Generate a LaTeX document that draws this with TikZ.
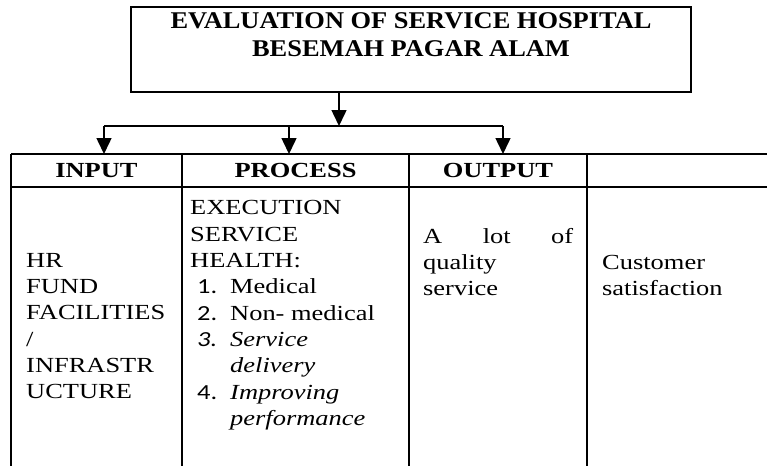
\documentclass[tikz,border=0pt]{standalone}
\usepackage{fontspec}
\setmainfont{Liberation Serif}[FakeStretch=1.23]
\newfontfamily\titlefont{Liberation Serif}[FakeStretch=1.1]
\newfontfamily\numfont{Carlito}[FakeStretch=1.23]
\usetikzlibrary{positioning,calc,arrows.meta}

\newcommand{\bodyfont}{\fontsize{21.5}{26.3}\selectfont}
\newcommand{\listnum}[1]{\hspace*{7pt}\makebox[33pt][l]{\numfont #1}}
\newcommand{\listgap}{\hspace*{40pt}}

\tikzset{
  rule/.style={line width=2pt},
  link/.style={line width=1.5pt, -{Triangle[length=16pt,width=15pt]}},
  cell/.style={minimum height=33pt, inner sep=0pt, outer sep=0pt, font=\bodyfont\bfseries},
  body/.style={anchor=north west, align=left, inner sep=0pt, font=\bodyfont},
}

\begin{document}
\begin{tikzpicture}[x=1pt,y=-1pt]
  \useasboundingbox (0,0) rectangle (767,466);

  % title box
  \node[draw, rule, minimum width=560pt, minimum height=85pt, inner sep=0pt] (title) at (411,49.5) {};
  \node[below=6.5pt of title.north, align=center, inner sep=0pt,
        font=\titlefont\fontsize{24}{28.3}\selectfont\bfseries] (titletext)
        {EVALUATION OF SERVICE HOSPITAL\\BESEMAH PAGAR ALAM};

  % header cells
  \node[cell, minimum width=171pt, anchor=north west] (hin) at (11,154) {INPUT};
  \node[cell, minimum width=227pt, right=0pt of hin] (hproc) {PROCESS};
  \node[cell, minimum width=178pt, right=0pt of hproc] (hout) {OUTPUT};
  \node[cell, minimum width=180pt, right=0pt of hout] (hlast) {};

  % branches
  \coordinate (drop) at (339,126);
  \coordinate (b1) at (104,126);
  \coordinate (b2) at (289,126);
  \coordinate (b3) at (503,126);
  \draw[link] (title.south -| drop) -- (drop);
  \draw[line width=1.2pt] (b1) -- (b3);
  \draw[link] (b1) -- (b1 |- hin.north);
  \draw[link] (b2) -- (b2 |- hproc.north);
  \draw[link] (b3) -- (b3 |- hout.north);

  % table lines
  \draw[rule] (hin.north west) -- (hlast.north east);
  \draw[rule] (hin.south west) -- (hlast.south east);
  \foreach \c in {hin,hproc,hout,hlast}
    \draw[rule] (\c.north west) -- (\c.north west |- 0,466);

  % column texts
  \node[body] (inbody) at (26,253) {HR\\FUND\\FACILITIES\\/\\INFRASTR\\UCTURE};
  \node[body] (procbody) at (190,200.5) {EXECUTION\\SERVICE\\HEALTH:\\
    \listnum{1.}Medical\\
    \listnum{2.}Non- medical\\
    \listnum{\itshape 3.}\textit{Service}\\
    \listgap\textit{delivery}\\
    \listnum{4.}\textit{Improving}\\
    \listgap\textit{performance}};
  \node[body] (outbody) at (423,228) {\makebox[150pt][s]{A lot of}\\quality\\service};
  \node[body] (lastbody) at (602,255) {Customer\\satisfaction};
\end{tikzpicture}
\end{document}
